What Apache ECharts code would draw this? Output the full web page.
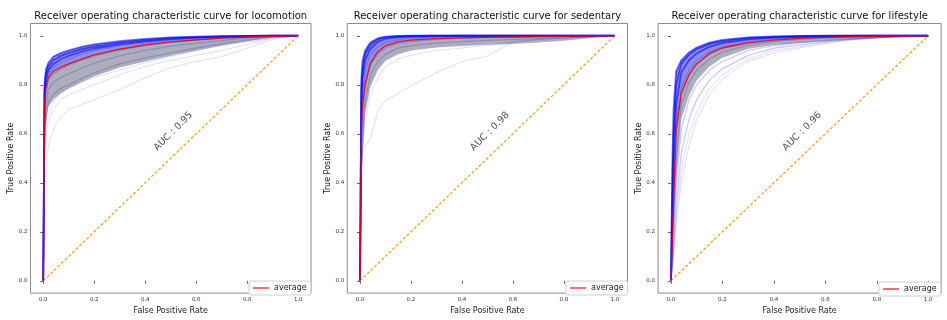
<!DOCTYPE html>
<html>
<head>
<meta charset="utf-8">
<script src="https://cdn.jsdelivr.net/npm/echarts@6.0.0/dist/echarts.min.js"></script>
<style>
  html, body { margin: 0; padding: 0; background: #fff; }
  #chart { width: 947px; height: 320px; }
</style>
</head>
<body>
<div id="chart"></div>
<script>
// shared false positive rate grid for every curve
const FPR = [0, 0.005, 0.01, 0.02, 0.04, 0.07, 0.1, 0.15, 0.2, 0.3, 0.4, 0.5, 0.6, 0.7, 0.8, 0.9, 1]
const TICKS = [0, 0.2, 0.4, 0.6, 0.8, 1.0]
const DIAG = [[0, 0], [1, 1]]

// locomotion
const locoMean = [0, 0.72, 0.78, 0.83, 0.855, 0.872, 0.885, 0.905, 0.922, 0.945, 0.963, 0.975, 0.983, 0.99, 0.995, 0.998, 1]
const locoLow = [0, 0.55, 0.64, 0.71, 0.74, 0.765, 0.785, 0.81, 0.835, 0.87, 0.895, 0.918, 0.94, 0.96, 0.978, 0.992, 1]
const locoHigh = [0, 0.80, 0.86, 0.89, 0.915, 0.93, 0.94, 0.955, 0.965, 0.978, 0.987, 0.993, 0.996, 0.998, 0.999, 1, 1]
const locoCurves = [
  [0, 0.80, 0.86, 0.89, 0.915, 0.93, 0.94, 0.955, 0.965, 0.978, 0.987, 0.993, 0.996, 0.998, 0.999, 1, 1],
  [0, 0.78, 0.84, 0.875, 0.9, 0.918, 0.93, 0.945, 0.956, 0.972, 0.982, 0.99, 0.994, 0.997, 0.999, 1, 1],
  [0, 0.76, 0.82, 0.86, 0.885, 0.905, 0.918, 0.935, 0.948, 0.965, 0.977, 0.986, 0.992, 0.996, 0.998, 1, 1],
  [0, 0.74, 0.80, 0.845, 0.87, 0.89, 0.905, 0.925, 0.94, 0.96, 0.972, 0.982, 0.989, 0.994, 0.997, 0.999, 1],
  [0, 0.70, 0.77, 0.82, 0.845, 0.865, 0.88, 0.9, 0.918, 0.942, 0.96, 0.973, 0.982, 0.99, 0.995, 0.999, 1],
  [0, 0.65, 0.72, 0.78, 0.81, 0.83, 0.845, 0.868, 0.888, 0.918, 0.94, 0.958, 0.97, 0.98, 0.99, 0.997, 1],
  [0, 0.58, 0.66, 0.73, 0.76, 0.785, 0.8, 0.825, 0.848, 0.885, 0.91, 0.93, 0.95, 0.968, 0.982, 0.995, 1]
]
const locoOutliers = [
  [0, 0.38, 0.47, 0.55, 0.62, 0.67, 0.70, 0.72, 0.74, 0.78, 0.83, 0.87, 0.895, 0.915, 0.95, 0.985, 1],
  [0, 0.5, 0.58, 0.65, 0.7, 0.74, 0.76, 0.78, 0.8, 0.84, 0.875, 0.9, 0.92, 0.94, 0.965, 0.99, 1],
  [0, 0.55, 0.62, 0.68, 0.73, 0.77, 0.79, 0.81, 0.83, 0.86, 0.89, 0.915, 0.94, 0.96, 0.975, 0.99, 1]
]

// sedentary
const sedMean = [0, 0.6, 0.72, 0.8, 0.885, 0.935, 0.959, 0.975, 0.982, 0.988, 0.991, 0.993, 0.995, 0.997, 0.998, 0.999, 1]
const sedLow = [0, 0.35, 0.5, 0.68, 0.79, 0.86, 0.898, 0.925, 0.94, 0.952, 0.958, 0.963, 0.966, 0.972, 0.98, 0.99, 1]
const sedHigh = [0, 0.82, 0.9, 0.94, 0.972, 0.99, 0.996, 0.999, 1, 1, 1, 1, 1, 1, 1, 1, 1]
const sedCurves = [
  [0, 0.82, 0.9, 0.94, 0.972, 0.99, 0.996, 0.999, 1, 1, 1, 1, 1, 1, 1, 1, 1],
  [0, 0.78, 0.87, 0.925, 0.962, 0.985, 0.993, 0.998, 0.999, 1, 1, 1, 1, 1, 1, 1, 1],
  [0, 0.72, 0.83, 0.9, 0.945, 0.975, 0.987, 0.994, 0.997, 0.999, 1, 1, 1, 1, 1, 1, 1],
  [0, 0.65, 0.77, 0.86, 0.92, 0.955, 0.972, 0.985, 0.99, 0.995, 0.997, 0.998, 0.999, 1, 1, 1, 1],
  [0, 0.55, 0.68, 0.8, 0.88, 0.925, 0.95, 0.968, 0.976, 0.985, 0.99, 0.993, 0.995, 0.997, 0.998, 0.999, 1],
  [0, 0.45, 0.6, 0.73, 0.84, 0.895, 0.925, 0.95, 0.96, 0.97, 0.976, 0.981, 0.985, 0.988, 0.992, 0.996, 1]
]
const sedOutliers = [
  [0, 0.45, 0.53, 0.55, 0.58, 0.69, 0.735, 0.765, 0.795, 0.85, 0.895, 0.917, 0.975, 0.985, 0.99, 0.995, 1],
  [0, 0.45, 0.55, 0.65, 0.76, 0.83, 0.875, 0.905, 0.92, 0.94, 0.95, 0.96, 0.975, 0.985, 0.99, 0.995, 1]
]

// lifestyle
const lifeMean = [0, 0.16, 0.31, 0.61, 0.765, 0.84, 0.885, 0.927, 0.95, 0.971, 0.982, 0.989, 0.993, 0.996, 0.998, 0.999, 1]
const lifeLow = [0, 0.1, 0.2, 0.4, 0.66, 0.755, 0.818, 0.875, 0.91, 0.947, 0.962, 0.97, 0.978, 0.985, 0.99, 0.996, 1]
const lifeHigh = [0, 0.45, 0.7, 0.855, 0.9, 0.932, 0.952, 0.972, 0.983, 0.993, 0.997, 0.999, 1, 1, 1, 1, 1]
const lifeCurves = [
  [0, 0.45, 0.7, 0.855, 0.9, 0.932, 0.952, 0.972, 0.983, 0.993, 0.997, 0.999, 1, 1, 1, 1, 1],
  [0, 0.35, 0.6, 0.8, 0.885, 0.922, 0.945, 0.966, 0.978, 0.99, 0.995, 0.998, 0.999, 1, 1, 1, 1],
  [0, 0.25, 0.48, 0.72, 0.85, 0.9, 0.928, 0.955, 0.97, 0.985, 0.992, 0.996, 0.998, 0.999, 1, 1, 1],
  [0, 0.18, 0.36, 0.62, 0.79, 0.86, 0.9, 0.935, 0.955, 0.975, 0.986, 0.992, 0.995, 0.997, 0.999, 1, 1],
  [0, 0.12, 0.26, 0.5, 0.72, 0.81, 0.86, 0.905, 0.933, 0.962, 0.976, 0.985, 0.99, 0.994, 0.997, 0.999, 1],
  [0, 0.08, 0.18, 0.38, 0.62, 0.74, 0.8, 0.86, 0.895, 0.94, 0.96, 0.972, 0.98, 0.987, 0.993, 0.997, 1],
  [0, 0.06, 0.14, 0.3, 0.52, 0.66, 0.74, 0.82, 0.865, 0.92, 0.95, 0.963, 0.975, 0.985, 0.992, 0.997, 1]
]
const lifeOutliers = [
  [0, 0.05, 0.12, 0.25, 0.45, 0.6, 0.69, 0.785, 0.84, 0.905, 0.94, 0.955, 0.972, 0.985, 0.992, 0.997, 1],
  [0, 0.04, 0.1, 0.22, 0.4, 0.55, 0.66, 0.76, 0.825, 0.895, 0.93, 0.95, 0.968, 0.982, 0.99, 0.996, 1]
]

const panels = [
  { title: 'Receiver operating characteristic curve for locomotion', auc: 'AUC : 0.95',
    mean: locoMean, low: locoLow, high: locoHigh, curves: locoCurves, outliers: locoOutliers,
    left: 30.5, width: 280.5, legendLeft: 249, legendTop: 281, aucPos: [0.51, 0.61] },
  { title: 'Receiver operating characteristic curve for sedentary', auc: 'AUC : 0.98',
    mean: sedMean, low: sedLow, high: sedHigh, curves: sedCurves, outliers: sedOutliers,
    left: 347.3, width: 280.2, legendLeft: 566, legendTop: 281, aucPos: [0.51, 0.61] },
  { title: 'Receiver operating characteristic curve for lifestyle', auc: 'AUC : 0.96',
    mean: lifeMean, low: lifeLow, high: lifeHigh, curves: lifeCurves, outliers: lifeOutliers,
    left: 658.1, width: 283, legendLeft: 879, legendTop: 282, aucPos: [0.51, 0.61] }
]

const FONT = 'DejaVu Sans'
const pairs = ys => FPR.map((x, i) => [x, ys[i]])

// filled region between two curves, drawn through the axes of panel k
function band (k, lower, upper, fill) {
  return {
    type: 'custom', xAxisIndex: k, yAxisIndex: k, silent: true, data: [[0, 0]],
    renderItem: (params, api) => {
      const pts = []
      FPR.forEach((x, i) => pts.push(api.coord([x, lower[i]])))
      for (let i = FPR.length - 1; i >= 0; i--) pts.push(api.coord([FPR[i], upper[i]]))
      return { type: 'polygon', shape: { points: pts }, style: { fill: fill } }
    }
  }
}

let option = {
  animation: false,
  title: [], grid: [], xAxis: [], yAxis: [], legend: [], series: []
}

panels.forEach((p, k) => {
  option.title.push({
    text: p.title, left: p.left + p.width / 2, top: 11, textAlign: 'center', padding: 0,
    textStyle: { fontFamily: FONT, fontSize: 10, fontWeight: 'normal', color: '#111' }
  })
  option.grid.push({
    left: p.left, top: 23.5, width: p.width, height: 274,
    show: true, borderColor: '#8c8c8c', borderWidth: 1, backgroundColor: '#fff'
  })
  option.xAxis.push({
    type: 'value', gridIndex: k, min: -0.05, max: 1.05,
    name: 'False Positive Rate', nameLocation: 'middle', nameGap: 10,
    nameTextStyle: { fontFamily: FONT, fontSize: 8, color: '#222' },
    axisLine: { show: false }, splitLine: { show: false },
    axisTick: { show: true, customValues: TICKS, length: 3, lineStyle: { color: '#666' } },
    axisLabel: { customValues: TICKS, fontFamily: FONT, fontSize: 5.5, color: '#333', margin: 3,
      formatter: v => v.toFixed(1) }
  })
  option.yAxis.push({
    type: 'value', gridIndex: k, min: -0.05, max: 1.05,
    name: 'True Positive Rate', nameLocation: 'middle', nameGap: 14, nameRotate: 90,
    nameTextStyle: { fontFamily: FONT, fontSize: 8, color: '#222' },
    axisLine: { show: false }, splitLine: { show: false },
    axisTick: { show: true, customValues: TICKS, length: 3, lineStyle: { color: '#666' } },
    axisLabel: { customValues: TICKS, fontFamily: FONT, fontSize: 5.5, color: '#333', margin: 3,
      formatter: v => v.toFixed(1) }
  })
  option.legend.push({
    left: p.legendLeft, top: p.legendTop, padding: [3, 4], itemWidth: 16, itemHeight: 2,
    icon: 'rect', itemGap: 4,
    borderColor: '#d0d0d0', borderWidth: 1, borderRadius: 2, backgroundColor: '#fff',
    data: [{ name: 'average' }],
    textStyle: { fontFamily: FONT, fontSize: 8, color: '#222' }
  })

  // grey spread below the average, saturated blue bundle above it
  option.series.push(band(k, p.low, p.mean, 'rgba(120,120,140,0.6)'))
  option.series.push(band(k, p.mean, p.high, 'rgba(50,50,215,0.55)'))
  p.outliers.forEach(c => option.series.push({
    type: 'line', xAxisIndex: k, yAxisIndex: k, silent: true, symbol: 'none',
    data: pairs(c), lineStyle: { color: 'rgba(60,60,255,0.18)', width: 1 }
  }))
  p.curves.forEach((c, j) => option.series.push({
    type: 'line', xAxisIndex: k, yAxisIndex: k, silent: true, symbol: 'none',
    data: pairs(c),
    lineStyle: { color: j < 3 ? 'rgba(10,10,235,0.6)' : 'rgba(40,40,240,0.25)', width: j < 3 ? 1.8 : 1.3 }
  }))
  option.series.push({
    type: 'line', xAxisIndex: k, yAxisIndex: k, silent: true, symbol: 'none',
    data: DIAG, lineStyle: { color: '#ff9d2b', width: 1.3, type: [3, 2] }
  })
  option.series.push({
    name: 'average', type: 'line', xAxisIndex: k, yAxisIndex: k, silent: true, symbol: 'none',
    data: pairs(p.mean),
    lineStyle: { color: 'rgba(230,0,30,0.9)', width: 1.3 },
    itemStyle: { color: '#ff6b6b' }
  })
  option.series.push({
    type: 'scatter', xAxisIndex: k, yAxisIndex: k, silent: true, symbolSize: 0,
    data: [p.aucPos],
    label: { show: true, position: 'inside', rotate: 45, formatter: p.auc,
      fontFamily: FONT, fontSize: 9.5, color: '#222' }
  })
})

let chart = echarts.init(document.getElementById('chart'), null, { renderer: 'canvas' })
chart.setOption(option)
</script>
</body>
</html>
